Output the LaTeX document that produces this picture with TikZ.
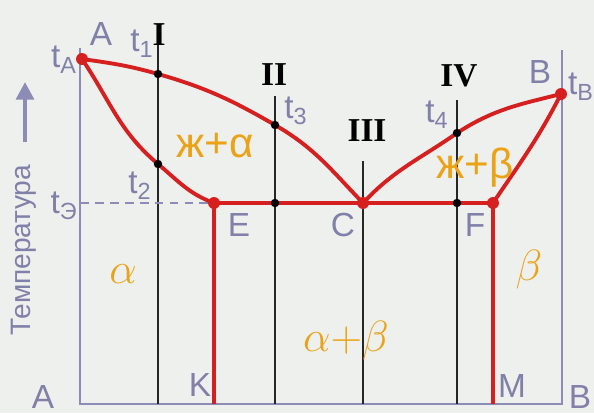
\documentclass[tikz,border=0pt]{standalone}
\usepackage{fontspec}
\setmainfont{Liberation Sans}
\newfontfamily\romanfont{Liberation Serif}
\usetikzlibrary{arrows.meta}

\definecolor{axisgray}{RGB}{140,140,182}
\definecolor{lblgray}{RGB}{128,128,168}
\definecolor{phred}{RGB}{214,32,32}
\definecolor{phorange}{RGB}{236,162,22}
\definecolor{bgpaper}{RGB}{238,240,238}

\begin{document}
\begin{tikzpicture}[x=0.02cm, y=-0.02cm,
  axis/.style={draw=axisgray, line width=1.6pt},
  curve/.style={draw=phred, line width=2.2pt},
  vline/.style={draw=black!85, line width=1pt},
  lbl/.style={text=lblgray, font=\fontsize{19}{19}\selectfont, inner sep=0pt},
  roman/.style={font=\romanfont\bfseries\fontsize{19}{19}\selectfont, inner sep=0pt},
  phase/.style={text=phorange, font=\fontsize{24}{24}\selectfont, inner sep=0pt},
  sphase/.style={phase, font=\fontsize{26}{26}\selectfont}
]
  \useasboundingbox (0,0) rectangle (594,413);
  \fill[bgpaper] (0,0) rectangle (594,413);

  \coordinate (tA) at (82,59);
  \coordinate (tB) at (561,94);
  \coordinate (t1) at (158,74);
  \coordinate (t2) at (158,164);
  \coordinate (t3) at (275,125);
  \coordinate (t4) at (457,133);
  \coordinate (E) at (214,203);
  \coordinate (C) at (363,203);
  \coordinate (F) at (493,203);
  \coordinate (d2) at (275,203);
  \coordinate (d4) at (457,203);
  \coordinate (K) at (214,404);
  \coordinate (M) at (493,404);
  \coordinate (ylo) at (80,404);
  \coordinate (yhi) at (80,48);
  \coordinate (xhi) at (562,404);
  \coordinate (rhi) at (562,50);
  \coordinate (tE) at (80,203);

  \draw[axis] (yhi) -- (ylo) -- (xhi) -- (rhi);

  \draw[vline] (158,45) -- (158,404);
  \draw[vline] (275,96) -- (275,404);
  \draw[vline] (363,161) -- (363,404);
  \draw[vline] (457,100) -- (457,404);

  \draw[axisgray, line width=1.2pt, dash pattern=on 5pt off 3.5pt] (tE) -- (E);

  \draw[curve] (tA) to[out=-8,in=164] (t1) to[out=-16,in=150] (t3) to[out=-30,in=134] (C);
  \draw[curve] (tA) to[out=-56,in=140] (t2) to[out=-40,in=160] (E);
  \draw[curve] (C) to[out=47,in=-145] (t4) to[out=33,in=-166] (tB);
  \draw[curve] (F) to[out=56,in=-117] (tB);
  \draw[curve] (K) -- (E) -- (F) -- (M);

  \foreach \p in {t1,t2,t3,t4,d2,d4} \fill[black] (\p) circle (2.4pt);
  \foreach \p in {tA,tB,E,C,F} \fill[phred] (\p) circle (3.4pt);

  \draw[axisgray, line width=2.3pt, -{Triangle[length=10pt,width=10pt]}] (25,142) -- (25,82);
  \node[lbl, rotate=90, font=\fontsize{16}{16}\selectfont] (temp) at (24,250) {Температура};

  \node[lbl] (Atop) at (101,34) {A};
  \node[lbl] (Btop) at (540,72) {B};
  \node[lbl] (lA) at (64,60) {t\textsubscript{A}};
  \node[lbl] (lB) at (581,87) {t\textsubscript{B}};
  \node[lbl] (l1) at (142,44) {t\textsubscript{1}};
  \node[lbl] (l2) at (140,186) {t\textsubscript{2}};
  \node[lbl] (l3) at (296,111) {t\textsubscript{3}};
  \node[lbl] (l4) at (437,115) {t\textsubscript{4}};
  \node[lbl] (lE) at (64,206) {t\textsubscript{Э}};
  \node[lbl] (nE) at (239,225) {E};
  \node[lbl] (nC) at (343,225) {C};
  \node[lbl] (nF) at (475,225) {F};
  \node[lbl] (nK) at (200,385) {K};
  \node[lbl] (nM) at (512,386) {M};
  \node[lbl] (Abot) at (43,397) {A};
  \node[lbl] (Bbot) at (580,397) {B};

  \node[roman] (rI) at (159,35) {I};
  \node[roman] (rII) at (274,75) {II};
  \node[roman] (rIII) at (367,131) {III};
  \node[roman] (rIV) at (459,76) {IV};

  \node[phase] (la) at (215,146) {ж+α};
  \node[phase] (lb) at (475,168) {ж+β};
  \node[sphase] (pa) at (123,274) {$\alpha$};
  \node[sphase] (pb) at (529,270) {$\beta$};
  \node[sphase] (pab) at (346,341) {$\alpha{+}\beta$};
\end{tikzpicture}
\end{document}
